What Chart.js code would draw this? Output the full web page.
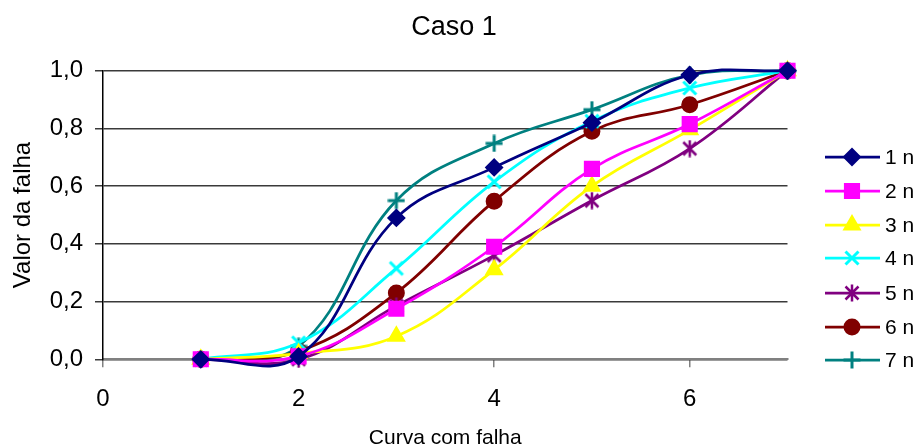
<!DOCTYPE html>
<html>
<head>
<meta charset="utf-8">
<script src="https://cdn.jsdelivr.net/npm/chart.js@4/dist/chart.umd.min.js"></script>
<style>
  html, body { margin: 0; padding: 0; background: #fff; }
  #wrap { width: 916px; height: 448px; }
</style>
</head>
<body>
<div id="wrap"><canvas id="myChart" width="916" height="448"></canvas></div>
<script>
// x = failed curve, y = failure value, one series per legend entry
const curvas = [1, 2, 3, 4, 5, 6, 7];
const serie1 = [0, 0.01, 0.49, 0.665, 0.82, 0.985, 1.0];
const serie2 = [0, 0.01, 0.175, 0.39, 0.66, 0.815, 1.0];
const serie3 = [0, 0.02, 0.08, 0.31, 0.6, 0.795, 1.0];
const serie4 = [0, 0.057, 0.315, 0.615, 0.825, 0.94, 1.0];
const serie5 = [0, 0.0, 0.185, 0.36, 0.55, 0.73, 1.0];
const serie6 = [0, 0.028, 0.23, 0.548, 0.79, 0.882, 1.0];
const serie7 = [0, 0.045, 0.55, 0.748, 0.865, 0.985, 1.0];
const nomes = ['1 n', '2 n', '3 n', '4 n', '5 n', '6 n', '7 n'];
const yTicks = [0, 0.2, 0.4, 0.6, 0.8, 1.0];

const FONT = "'Liberation Sans', Arial, sans-serif";

// stroke-only markers drawn on small canvases (X, +, asterisk)
function makeMarker(color, kind) {
    const c = document.createElement('canvas');
    c.width = 18; c.height = 18;
    const g = c.getContext('2d');
    g.strokeStyle = color;
    g.lineWidth = kind === 'ast' ? 2.5 : 3;
    g.beginPath();
    if (kind === 'x' || kind === 'ast') {
        g.moveTo(2.5, 2.5); g.lineTo(15.5, 15.5);
        g.moveTo(15.5, 2.5); g.lineTo(2.5, 15.5);
    }
    if (kind === 'plus' || kind === 'ast') {
        g.moveTo(9, 0.5); g.lineTo(9, 17.5);
    }
    if (kind === 'plus') {
        g.moveTo(0.5, 9); g.lineTo(17.5, 9);
    }
    g.stroke();
    return c;
}

const estilos = [
    { color: '#000080', point: 'rectRot', radius: 8, bw: 2 },
    { color: '#FF00FF', point: 'rect', radius: 10, bw: 2 },
    { color: '#FFFF00', point: 'triangle', radius: 9, bw: 2 },
    { color: '#00FFFF', point: makeMarker('#00FFFF', 'x'), radius: 9, bw: 3 },
    { color: '#800080', point: makeMarker('#800080', 'ast'), radius: 9, bw: 2 },
    { color: '#800000', point: 'circle', radius: 7.5, bw: 2 },
    { color: '#008080', point: makeMarker('#008080', 'plus'), radius: 9, bw: 3 }
];

const series = [serie1, serie2, serie3, serie4, serie5, serie6, serie7];

const datasets = series.map((vals, i) => ({
    label: nomes[i],
    data: curvas.map((x, j) => ({ x: x, y: vals[j] })),
    showLine: true,
    borderColor: estilos[i].color,
    backgroundColor: estilos[i].color,
    borderWidth: 2.75,
    tension: 0.4,
    pointStyle: estilos[i].point,
    pointRadius: estilos[i].radius,
    pointBorderWidth: estilos[i].bw,
    pointBorderColor: estilos[i].color,
    pointBackgroundColor: estilos[i].color,
    clip: 20
}));

const titlePlugin = {
    id: 'titulo',
    afterDraw(chart) {
        const ctx = chart.ctx;
        ctx.save();
        ctx.fillStyle = '#000';
        ctx.font = '27px ' + FONT;
        ctx.textAlign = 'center';
        ctx.textBaseline = 'middle';
        ctx.fillText('Caso 1', 454, 28);
        ctx.restore();
    }
};

const legendPlugin = {
    id: 'legenda',
    afterDraw(chart) {
        const ctx = chart.ctx;
        const ys = [157, 191, 225, 258, 293, 327, 360];
        ctx.save();
        chart.data.datasets.forEach((ds, i) => {
            const y = ys[i];
            ctx.strokeStyle = ds.borderColor;
            ctx.lineWidth = 2.75;
            ctx.beginPath();
            ctx.moveTo(825, y);
            ctx.lineTo(880, y);
            ctx.stroke();
            ctx.fillStyle = ds.borderColor;
            ctx.lineWidth = ds.pointBorderWidth;
            Chart.helpers.drawPoint(ctx, {
                pointStyle: ds.pointStyle,
                radius: ds.pointRadius,
                borderWidth: ds.pointBorderWidth,
                rotation: 0
            }, 852, y);
            ctx.fillStyle = '#000';
            ctx.font = '21px ' + FONT;
            ctx.textAlign = 'left';
            ctx.textBaseline = 'middle';
            ctx.fillText(ds.label, 885, y + 1);
        });
        ctx.restore();
    }
};

new Chart(document.getElementById('myChart').getContext('2d'), {
    type: 'scatter',
    data: { datasets },
    options: {
        responsive: false,
        animation: false,
        layout: { padding: { top: 70.7, right: 128.5, left: 0, bottom: 0 } },
        elements: { line: { capBezierPoints: false } },
        plugins: {
            legend: { display: false },
            title: { display: false },
            tooltip: { enabled: false }
        },
        scales: {
            x: {
                type: 'linear',
                min: 0,
                max: 7,
                afterFit(scale) { scale.height = 88.7; },
                afterBuildTicks(scale) {
                    scale.ticks = scale.ticks.filter(t => t.value % 2 === 0);
                },
                ticks: {
                    stepSize: 2,
                    color: '#000',
                    padding: 18,
                    font: { family: FONT, size: 24 }
                },
                grid: {
                    drawOnChartArea: false,
                    drawTicks: true,
                    tickLength: 8,
                    color: '#808080',
                    lineWidth: 1.5
                },
                border: { display: true, color: '#808080', width: 2 },
                title: {
                    display: true,
                    text: 'Curva com falha',
                    color: '#000',
                    font: { family: FONT, size: 21 },
                    padding: { top: 0, bottom: -3 }
                }
            },
            y: {
                min: 0,
                max: 1,
                afterFit(scale) { scale.width = 103; },
                afterBuildTicks(scale) {
                    scale.ticks = yTicks.map(v => ({ value: v }));
                },
                ticks: {
                    color: '#000',
                    padding: 12,
                    font: { family: FONT, size: 24 },
                    callback: v => v.toFixed(1).replace('.', ',')
                },
                grid: {
                    color: '#3a3a3a',
                    lineWidth: 1.5,
                    tickLength: 8
                },
                border: { display: true, color: '#000', width: 1.5 },
                title: {
                    display: true,
                    text: 'Valor da falha',
                    color: '#000',
                    font: { family: FONT, size: 24 },
                    padding: { top: 9, bottom: 0 }
                }
            }
        }
    },
    plugins: [titlePlugin, legendPlugin]
});
</script>
</body>
</html>
